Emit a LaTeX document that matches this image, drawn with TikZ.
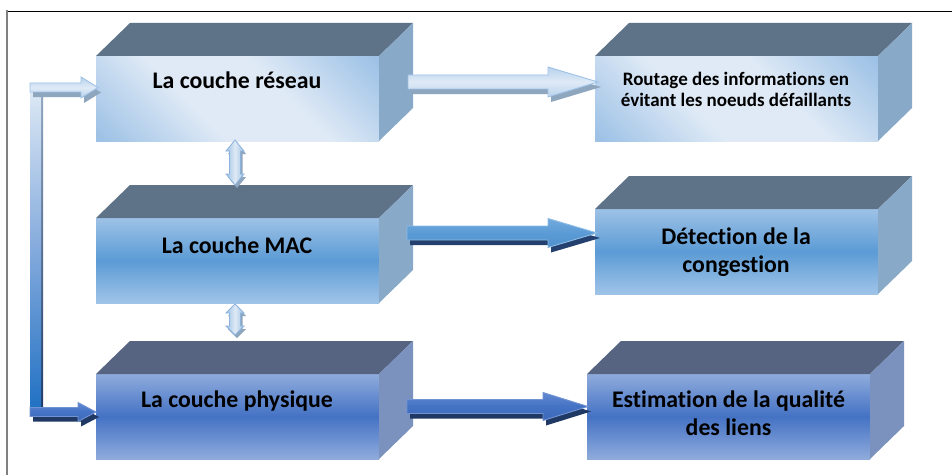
\documentclass[tikz,border=0pt]{standalone}
\usepackage{fontspec}
\setmainfont{Carlito}[Ligatures=NoCommon]
\usetikzlibrary{calc}

% palette
\definecolor{topA}{HTML}{5F7388}
\definecolor{topB}{HTML}{566482}
\definecolor{sideA}{HTML}{88A9C7}
\definecolor{sideB}{HTML}{7B92BF}
\definecolor{paleBlue}{HTML}{DFEAF6}
\definecolor{skyBlue}{HTML}{9EC2E6}
\definecolor{midBlue}{HTML}{5B9BD5}
\definecolor{midEdge}{HTML}{A0C4E8}
\definecolor{royal}{HTML}{4472C4}
\definecolor{royalEdge}{HTML}{8FABDC}
\definecolor{paleShadow}{HTML}{8FA6BF}
\definecolor{darkShadow}{HTML}{23406E}
\definecolor{navyShadow}{HTML}{203864}
\definecolor{barBlue}{HTML}{1C6EC2}
\colorlet{paleMid}{skyBlue!60!paleBlue}
\definecolor{midTop}{HTML}{72AADE}
\definecolor{midLow}{HTML}{4F8FCC}
\definecolor{midLine}{HTML}{8CBBE5}
\definecolor{royalTop}{HTML}{6189D1}
\definecolor{royalLow}{HTML}{3D68B8}
\definecolor{royalLine}{HTML}{7293D3}
\definecolor{dblLine}{HTML}{8DB3DD}

% light diagonal band used on the top-row fronts
\pgfdeclareverticalshading{diagband}{100bp}{color(0bp)=(skyBlue); color(16bp)=(skyBlue); color(40bp)=(paleBlue); color(60bp)=(paleBlue); color(84bp)=(skyBlue); color(100bp)=(skyBlue)}

\tikzset{
  x=1pt, y=1pt,
  face/.style={minimum width=283pt, minimum height=85pt, inner sep=0pt, outer sep=0pt},
  paleface/.style={face, shade, shading=diagband, shading angle=-45},
  midface/.style={face, top color=skyBlue, bottom color=midEdge, middle color=midBlue},
  royalface/.style={face, top color=royalEdge, bottom color=royalEdge, middle color=royal},
  lbl/.style={font=\fontsize{23.8}{28}\selectfont\bfseries, inner sep=0pt, anchor=base},
  lblsmall/.style={font=\fontsize{19}{20.5}\selectfont\bfseries, inner sep=0pt, anchor=base},
  paleArrow/.style={top color=paleMid, bottom color=paleMid, middle color=paleBlue, draw=skyBlue, line width=0.9pt},
  midArrow/.style={top color=midTop, bottom color=midLow, middle color=midBlue, draw=midLine, line width=0.9pt},
  royalArrow/.style={top color=royalTop, bottom color=royalLow, middle color=royal, draw=royalLine, line width=0.9pt},
  dblArrow/.style={left color=skyBlue, right color=skyBlue, middle color=paleBlue, draw=dblLine, line width=0.8pt},
}

% centred lines whose first baseline is the node baseline
\newcommand\lines[1]{\begin{tabular}[t]{@{}c@{}}#1\end{tabular}}

% top and right faces of a block whose front face is node #1
\newcommand\prismfaces[3]{%
  \fill[#2] (#1.north west) -- ++(34,33) -- ($(#1.north east)+(34,33)$) -- (#1.north east) -- cycle;
  \fill[#3] (#1.north east) -- ++(34,33) -- ($(#1.south east)+(34,33)$) -- (#1.south east) -- cycle;
}

% right-pointing block arrow with a drop shadow
% #1 tail, #2 tip, #3 shaft half width, #4 head half width, #5 head length,
% #6 body style, #7 shadow colour, #8 shadow shift
\newcommand\blockarrow[8]{%
  \fill[#7] let \p1=($(#1)+#8$), \p2=($(#2)+#8$) in
    (\x1,\y1+#3pt) -- (\x2-#5pt,\y1+#3pt) -- (\x2-#5pt,\y1+#4pt) -- (\x2,\y1)
    -- (\x2-#5pt,\y1-#4pt) -- (\x2-#5pt,\y1-#3pt) -- (\x1,\y1-#3pt) -- cycle;
  \path[#6] let \p1=(#1), \p2=(#2) in
    (\x1,\y1+#3pt) -- (\x2-#5pt,\y1+#3pt) -- (\x2-#5pt,\y1+#4pt) -- (\x2,\y1)
    -- (\x2-#5pt,\y1-#4pt) -- (\x2-#5pt,\y1-#3pt) -- (\x1,\y1-#3pt) -- cycle;
}

% vertical double-headed block arrow with a drop shadow
\newcommand\dblarrow[8]{%
  \fill[#7] let \p1=($(#1)+#8$), \p2=($(#2)+#8$) in
    (\x1,\y1) -- (\x1+#4pt,\y1-#5pt) -- (\x1+#3pt,\y1-#5pt) -- (\x1+#3pt,\y2+#5pt)
    -- (\x1+#4pt,\y2+#5pt) -- (\x1,\y2) -- (\x1-#4pt,\y2+#5pt) -- (\x1-#3pt,\y2+#5pt)
    -- (\x1-#3pt,\y1-#5pt) -- (\x1-#4pt,\y1-#5pt) -- cycle;
  \path[#6] let \p1=(#1), \p2=(#2) in
    (\x1,\y1) -- (\x1+#4pt,\y1-#5pt) -- (\x1+#3pt,\y1-#5pt) -- (\x1+#3pt,\y2+#5pt)
    -- (\x1+#4pt,\y2+#5pt) -- (\x1,\y2) -- (\x1-#4pt,\y2+#5pt) -- (\x1-#3pt,\y2+#5pt)
    -- (\x1-#3pt,\y1-#5pt) -- (\x1-#4pt,\y1-#5pt) -- cycle;
}

\begin{document}
\begin{tikzpicture}
\useasboundingbox (0,0) rectangle (952,475);
\fill[white] (0,0) rectangle (952,475);

% frame
\draw[black, line width=0.9pt] (7,464) -- (952,464);
\draw[gray, line width=1.2pt] (7,464.5) -- (7,0);

% front faces
\node[paleface] (reseau) at (237.5,376.5) {};
\node[midface]  (mac)    at (237.5,214.5) {};
\node[royalface] (phys)  at (237.5,58.5) {};
\node[paleface] (routage) at (736.5,376.5) {};
\node[midface]  (detect)  at (736.5,223.5) {};
\node[royalface] (estim)  at (728.5,58.5) {};

\prismfaces{reseau}{topA}{sideA}
\prismfaces{mac}{topA}{sideA}
\prismfaces{phys}{topB}{sideB}
\prismfaces{routage}{topA}{sideA}
\prismfaces{detect}{topA}{sideA}
\prismfaces{estim}{topB}{sideB}

% arrow end points
\coordinate (r1s) at ($(reseau.east)+(29,16.5)$);
\coordinate (r1e) at ($(routage.west)+(3,16.5)$);
\coordinate (r2s) at ($(mac.east)+(28,27.5)$);
\coordinate (r2e) at ($(detect.west)+(2,18.5)$);
\coordinate (r3s) at ($(phys.east)+(28,10)$);
\coordinate (r3e) at ($(estim.west)+(1,10)$);
\coordinate (v1a) at ($(reseau.south)+(-2.5,1)$);
\coordinate (v1b) at ($(mac.north)+(-2.5,33)$);
\coordinate (v2a) at ($(mac.south)+(-2.5,-1)$);
\coordinate (v2b) at ($(phys.north)+(-2.5,39)$);
\coordinate (fbt) at (30,387.5);
\coordinate (fbb) at (30,63);
\coordinate (fbtip1) at ($(reseau.west)+(2,11)$);
\coordinate (fbtip2) at ($(phys.west)+(0,4.5)$);

% layer-to-function arrows
\blockarrow{r1s}{r1e}{7}{15}{50}{paleArrow}{paleShadow}{(3,-5)}
\blockarrow{r2s}{r2e}{7}{14.5}{49}{midArrow}{darkShadow}{(3,-5)}
\blockarrow{r3s}{r3e}{7}{14}{45}{royalArrow}{navyShadow}{(3,-5)}

% arrows between layers
\dblarrow{v1a}{v1b}{5.5}{9}{11}{dblArrow}{paleShadow}{(2,-3)}
\dblarrow{v2a}{v2b}{5.5}{9}{9}{dblArrow}{paleShadow}{(2,-3)}

% feedback path from the physical layer to the network layer
\shade[top color=paleShadow, bottom color=navyShadow] ($(fbb)+(11,-4)$) rectangle ($(fbt)+(13,-4)$);
\shade[top color=paleBlue, bottom color=barBlue, middle color=skyBlue!70!royal] ($(fbb)+(0,-4)$) rectangle ($(fbt)+(11,2)$);
\blockarrow{fbt}{fbtip1}{4.5}{10.5}{17}{paleArrow}{paleShadow}{(3,-5)}
\blockarrow{fbb}{fbtip2}{4.5}{9.5}{18}{royalArrow}{navyShadow}{(3,-5)}

% labels
\node[lbl] (t1) at (237,386) {La couche réseau};
\node[lbl] (t2) at (237,222) {La couche MAC};
\node[lbl] (t3) at (237,68) {La couche physique};
\node[lblsmall] (t4) at (736,389) {\lines{Routage des informations en\\évitant les noeuds défaillants}};
\node[lbl] (t5) at (736,231) {\lines{Détection de la\\congestion}};
\node[lbl] (t6) at (728.5,68) {\lines{Estimation de la qualité\\des liens}};
\end{tikzpicture}
\end{document}
